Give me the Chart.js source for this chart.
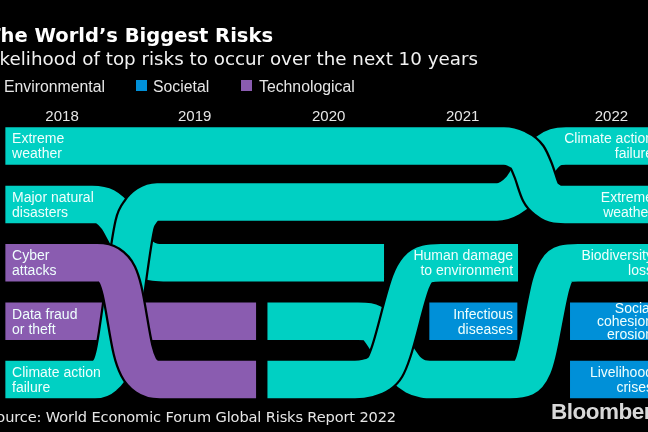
<!DOCTYPE html>
<html>
<head>
<meta charset="utf-8">
<script src="https://cdn.jsdelivr.net/npm/chart.js@4"></script>
<style>
html, body { margin: 0; background: #000; }
#wrap { position: relative; width: 648px; height: 432px; overflow: hidden; background: #000; }
#wrap canvas { position: absolute; left: 0; top: 0; }
.txt { position: absolute; white-space: nowrap; color: #f2f2f2; line-height: 1; }
#title { right: 375px; top: 24px; font: bold 19.5px "DejaVu Sans"; color: #fff; }
#subtitle { right: 170px; top: 48px; font: 18.3px "DejaVu Sans"; }
#source { right: 252px; top: 408px; font: 14.6px "DejaVu Sans"; color: #e6e6e6; letter-spacing: -0.14px; }
#logo { left: 551px; top: 399px; font: bold 22.5px "Liberation Sans"; color: #d8d8d8; letter-spacing: -0.5px; }
.leg { top: 77.5px; font: 15.8px "Liberation Sans"; color: #e6e6e6; }
.swatch { position: absolute; top: 80px; width: 11px; height: 11px; }
</style>
</head>
<body>
<div id="wrap">
  <canvas id="chart" width="648" height="432"></canvas>
  <div class="txt" id="title">The World’s Biggest Risks</div>
  <div class="txt" id="subtitle">Likelihood of top risks to occur over the next 10 years</div>
  <div class="txt leg" style="left:4px">Environmental</div>
  <div class="swatch" style="left:136px;background:#0090d8"></div>
  <div class="txt leg" style="left:153px">Societal</div>
  <div class="swatch" style="left:241px;background:#8a5cb0"></div>
  <div class="txt leg" style="left:259px">Technological</div>
  <div class="txt" id="source">Source: World Economic Forum Global Risks Report 2022</div>
  <div class="txt" id="logo">Bloomberg</div>
</div>
<script>
const tickYears = [2018, 2018.99, 2019.99, 2020.99, 2022.1];
const tickLabels = ["2018", "2019", "2020", "2021", "2022"];

// x is position on the timeline in years, rank is 1 (top) to 5 (bottom)
const extremeX = [2017.577, 2021.298, 2021.388, 2021.470, 2021.515, 2021.574, 2021.627, 2021.686, 2021.791, 2022.463];
const extremeRank = [1, 1, 1.05, 1.19, 1.41, 1.79, 1.92, 1.99, 2, 2];

const climateX = [2017.577, 2018.246, 2018.313, 2018.373, 2018.403, 2018.544, 2018.589, 2018.641, 2018.709, 2021.246, 2021.343, 2021.418, 2021.470, 2021.567, 2021.627, 2021.686, 2021.761, 2022.463];
const climateRank = [5, 5, 4.94, 4.75, 4.49, 2.35, 2.13, 2.01, 1.96, 1.96, 1.89, 1.75, 1.58, 1.24, 1.09, 1.02, 1, 1];

const naturalX = [2017.577, 2018.224, 2018.321, 2018.410, 2018.470, 2018.544, 2018.619, 2018.694, 2018.791, 2020.403];
const naturalRank = [2, 2, 2.04, 2.23, 2.47, 2.78, 2.93, 2.99, 3, 3];

const cyberX = [2017.577, 2018.261, 2018.343, 2018.410, 2018.447, 2018.530, 2018.574, 2018.634, 2018.731, 2019.448];
const cyberRank = [3, 3, 3.04, 3.21, 3.47, 4.49, 4.78, 4.94, 5, 5];

const fraudX = [2017.577, 2019.448];
const fraudRank = [4, 4];

const humanX = [2019.533, 2020.186, 2020.283, 2020.358, 2020.410, 2020.455, 2020.604, 2020.657, 2020.724, 2020.828, 2021.403];
const humanRank = [5, 5, 4.97, 4.90, 4.78, 4.53, 3.33, 3.11, 3.02, 3, 3];

const bioX = [2019.533, 2020.209, 2020.283, 2020.343, 2020.448, 2020.567, 2020.634, 2020.701, 2020.776, 2021.343, 2021.455, 2021.515, 2021.545, 2021.649, 2021.694, 2021.746, 2021.851, 2022.463];
const bioRank = [4, 4, 4.01, 4.08, 4.42, 4.82, 4.94, 4.99, 5, 5, 4.96, 4.77, 4.54, 3.38, 3.12, 3.02, 3, 3];

const infectiousX = [2020.741, 2021.398];
const infectiousRank = [4, 4];

const socialX = [2021.791, 2022.463];
const socialRank = [4, 4];

const livelihoodX = [2021.791, 2022.463];
const livelihoodRank = [5, 5];

const TEAL = "#00d0c3";
const PURPLE = "#8a5cb0";
const BLUE = "#0090d8";

function pts(xs, ranks) {
    return xs.map((x, i) => ({x: x, y: ranks[i]}));
}

// first in the list is drawn on top
const bands = [
    {xs: extremeX, ranks: extremeRank, color: TEAL, cased: true},
    {xs: cyberX, ranks: cyberRank, color: PURPLE, cased: true},
    {xs: climateX, ranks: climateRank, color: TEAL, cased: true},
    {xs: humanX, ranks: humanRank, color: TEAL, cased: true},
    {xs: bioX, ranks: bioRank, color: TEAL},
    {xs: naturalX, ranks: naturalRank, color: TEAL},
    {xs: fraudX, ranks: fraudRank, color: PURPLE},
    {xs: infectiousX, ranks: infectiousRank, color: BLUE},
    {xs: socialX, ranks: socialRank, color: BLUE},
    {xs: livelihoodX, ranks: livelihoodRank, color: BLUE}
];

function lineSet(b, color, width) {
    return {
        data: pts(b.xs, b.ranks),
        borderColor: color,
        borderWidth: width,
        borderCapStyle: "butt",
        borderJoinStyle: "round",
        cubicInterpolationMode: "monotone",
        pointRadius: 0
    };
}

const datasets = [];
for (const b of bands) {
    datasets.push(lineSet(b, b.color, 37.5));
    if (b.cased) datasets.push(lineSet(b, "#000", 42));
}

// band labels: x, rank, alignment, lines
const leftEdge = 2017.627;
const midEdge = 2021.366;
const rightEdge = 2022.410;
const bandLabels = [
    [leftEdge, 1, "left", ["Extreme", "weather"]],
    [leftEdge, 2, "left", ["Major natural", "disasters"]],
    [leftEdge, 3, "left", ["Cyber", "attacks"]],
    [leftEdge, 4, "left", ["Data fraud", "or theft"]],
    [leftEdge, 5, "left", ["Climate action", "failure"]],
    [midEdge, 3, "right", ["Human damage", "to environment"]],
    [midEdge, 4, "right", ["Infectious", "diseases"]],
    [rightEdge, 1, "right", ["Climate action", "failure"]],
    [rightEdge, 2, "right", ["Extreme", "weather"]],
    [rightEdge, 3, "right", ["Biodiversity", "loss"]],
    [rightEdge, 4, "right", ["Social", "cohesion", "erosion"]],
    [rightEdge, 5, "right", ["Livelihood", "crises"]]
];

const labelPlugin = {
    id: "bandLabels",
    afterDatasetsDraw(chart) {
        const ctx = chart.ctx;
        const sx = chart.scales.x, sy = chart.scales.y;
        ctx.save();
        ctx.font = '14px "Liberation Sans"';
        ctx.fillStyle = "#effffd";
        ctx.textBaseline = "middle";
        for (const [x, rank, align, lines] of bandLabels) {
            const step = lines.length > 2 ? 13 : 15;
            const y0 = sy.getPixelForValue(rank) - step * (lines.length - 1) / 2 + 1;
            ctx.textAlign = align;
            lines.forEach((t, i) => ctx.fillText(t, sx.getPixelForValue(x), y0 + i * step));
        }
        ctx.restore();
    }
};

new Chart(document.getElementById("chart"), {
    type: "line",
    data: {datasets: datasets},
    plugins: [labelPlugin],
    options: {
        responsive: false,
        animation: false,
        layout: {padding: 0},
        plugins: {legend: {display: false}, tooltip: {enabled: false}},
        scales: {
            x: {
                type: "linear",
                min: 2017.537,
                max: 2022.373,
                position: {y: 0.16},
                grid: {display: false},
                border: {display: false},
                afterBuildTicks(scale) {
                    scale.ticks = tickYears.map(v => ({value: v}));
                },
                ticks: {
                    autoSkip: false,
                    maxRotation: 0,
                    color: "#e6e6e6",
                    font: {family: "Liberation Sans", size: 15},
                    callback(value, index) {
                        return tickLabels[index];
                    }
                }
            },
            y: {
                type: "linear",
                reverse: true,
                min: -1.5,
                max: 5.897,
                display: false
            }
        }
    }
});
</script>
</body>
</html>
